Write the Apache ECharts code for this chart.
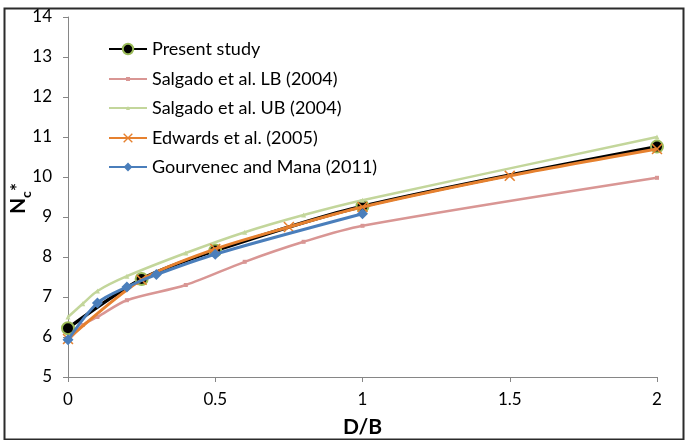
<!DOCTYPE html>
<html>
<head>
<meta charset="utf-8">
<script src="https://cdn.jsdelivr.net/npm/echarts@6/dist/echarts.min.js"></script>
<style>
html,body{margin:0;padding:0;background:#fff;}
#chart{width:685px;height:440px;}
</style>
</head>
<body>
<div id="chart"></div>
<script>
// ---- data ----
var seriesNames = ['Present study', 'Salgado et al. LB (2004)', 'Salgado et al. UB (2004)', 'Edwards et al. (2005)', 'Gourvenec and Mana (2011)'];
var presentX = [0, 0.25, 0.5, 1, 2];
var presentY = [6.22, 7.45, 8.16, 9.27, 10.76];
var lbX = [0, 0.05, 0.1, 0.2, 0.4, 0.6, 0.8, 1, 2];
var lbY = [5.9, 6.3, 6.5, 6.92, 7.3, 7.88, 8.38, 8.78, 9.98];
var ubX = [0, 0.05, 0.1, 0.2, 0.4, 0.6, 0.8, 1, 2];
var ubY = [6.5, 6.83, 7.15, 7.52, 8.1, 8.62, 9.05, 9.42, 11.0];
var edwX = [0, 0.25, 0.5, 0.75, 1, 1.5, 2];
var edwY = [5.95, 7.43, 8.2, 8.75, 9.25, 10.03, 10.7];
var gmX = [0, 0.1, 0.2, 0.3, 0.5, 1];
var gmY = [5.93, 6.85, 7.25, 7.56, 8.07, 9.08];
var xTicks = [0, 0.5, 1, 1.5, 2];
var yTicks = [5, 6, 7, 8, 9, 10, 11, 12, 13, 14];

function pairs(xs, ys) { return xs.map(function (x, i) { return [x, ys[i]]; }); }

var FONT = 'Lato, "Open Sans", sans-serif';
var xSym = 'path://M0,1L1,0L5,4L9,0L10,1L6,5L10,9L9,10L5,6L1,10L0,9L4,5Z';

var legendTops = [39, 69, 98, 128, 157];
var legendIconH = [13, 5, 5, 12, 11];
var legends = seriesNames.map(function (n, i) {
  return {
    orient: 'vertical', left: 108, top: legendTops[i], padding: 0,
    itemWidth: 38, itemHeight: legendIconH[i], itemGap: 0,
    textStyle: {fontSize: 18, fontFamily: FONT, color: '#000', lineHeight: 20},
    selectedMode: false,
    data: [n]
  };
});

var chart = echarts.init(document.getElementById('chart'), null, {renderer: 'canvas'});
chart.setOption({
  animation: false,
  backgroundColor: '#fff',
  grid: {left: 68, right: 28, top: 17, bottom: 63, containLabel: false, outerBoundsMode: 'none'},
  legend: legends,
  xAxis: {
    type: 'value', min: xTicks[0], max: xTicks[xTicks.length - 1], interval: 0.5,
    axisLine: {lineStyle: {color: '#868686', width: 1}},
    axisTick: {show: true, length: 5, lineStyle: {color: '#868686'}},
    splitLine: {show: false},
    axisLabel: {fontSize: 17, fontFamily: FONT, color: '#000', margin: 14},
    name: 'D/B', nameLocation: 'middle', nameGap: 40,
    nameTextStyle: {fontSize: 21, fontWeight: 'bold', fontFamily: FONT, color: '#000'}
  },
  yAxis: {
    type: 'value', min: yTicks[0], max: yTicks[yTicks.length - 1], interval: 1,
    axisLine: {show: true, lineStyle: {color: '#868686', width: 1}},
    axisTick: {show: true, length: 5, lineStyle: {color: '#868686'}},
    splitLine: {show: false},
    axisLabel: {fontSize: 17, fontFamily: FONT, color: '#000', margin: 16}
  },
  graphic: [
    {type: 'rect', left: 2, top: 6, shape: {width: 679, height: 431},
     style: {fill: 'none', stroke: '#2b2b2b', lineWidth: 2}, silent: true, z: -1},
    {type: 'group', x: 9, y: 214, rotation: Math.PI / 2, children: [
      {type: 'text', x: 0, y: 9, style: {text: 'N', font: 'bold 21px ' + FONT, fill: '#000', verticalAlign: 'middle', align: 'left'}},
      {type: 'text', x: 16, y: 17, style: {text: 'c', font: 'bold 14px ' + FONT, fill: '#000', verticalAlign: 'middle', align: 'left'}},
      {type: 'text', x: 23, y: 9, style: {text: '*', font: 'bold 19px ' + FONT, fill: '#000', verticalAlign: 'middle', align: 'left'}}
    ]}
  ],
  series: [
    {name: seriesNames[0], type: 'line', smooth: 0.3, data: pairs(presentX, presentY),
     symbol: 'circle', symbolSize: 12, showAllSymbol: true,
     lineStyle: {color: '#000', width: 3.5},
     itemStyle: {color: '#000', borderColor: '#9BBB59', borderWidth: 2}, z: 2},
    {name: seriesNames[1], type: 'line', smooth: 0.3, data: pairs(lbX, lbY),
     symbol: 'rect', symbolSize: 4, showAllSymbol: true,
     lineStyle: {color: '#D99694', width: 2.5},
     itemStyle: {color: '#D99694'}, z: 3},
    {name: seriesNames[2], type: 'line', smooth: 0.3, data: pairs(ubX, ubY),
     symbol: 'triangle', symbolSize: 5, showAllSymbol: true,
     lineStyle: {color: '#C3D69B', width: 2.5},
     itemStyle: {color: '#C3D69B'}, z: 3},
    {name: seriesNames[3], type: 'line', smooth: 0.3, data: pairs(edwX, edwY),
     symbol: xSym, symbolSize: 11, showAllSymbol: true,
     lineStyle: {color: '#E6812F', width: 3},
     itemStyle: {color: '#E6812F'}, z: 4},
    {name: seriesNames[4], type: 'line', smooth: 0.3, data: pairs(gmX, gmY),
     symbol: 'diamond', symbolSize: 11, showAllSymbol: true,
     lineStyle: {color: '#4A7EBB', width: 3},
     itemStyle: {color: '#4A7EBB'}, z: 5}
  ]
});
</script>
</body>
</html>
